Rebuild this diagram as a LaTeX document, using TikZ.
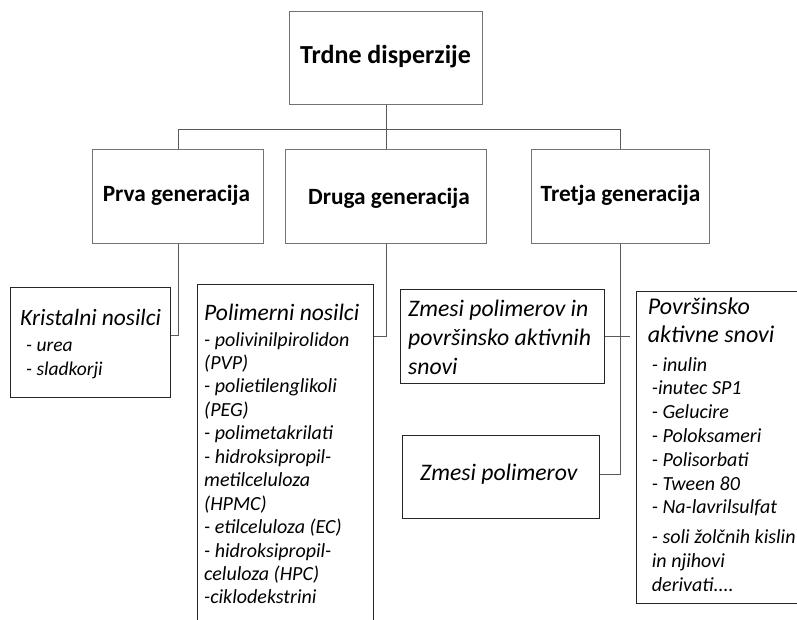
\documentclass[tikz,border=0pt]{standalone}
\usepackage{fontspec}
\setmainfont{Carlito}
\begin{document}
\begin{tikzpicture}[x=1pt,y=-1pt,
  topbox/.style={draw=black!55,line width=1.1pt,fill=white,inner sep=0pt,
     minimum width=#1},
  lowbox/.style={draw=black!85,line width=1.1pt,fill=white,inner sep=0pt},
  conn/.style={draw=black!65,line width=1pt},
  txt/.style={inner sep=0pt,anchor=base west,align=left},
  ctxt/.style={inner sep=0pt,anchor=base}]
\useasboundingbox (0,0) rectangle (797,619);
\fill[white] (0,0) rectangle (797,619);
\clip (0,0) rectangle (797,619);

% ---------- boxes ----------
\node[topbox=193pt,minimum height=93pt,anchor=north west] (top) at (289,11) {};
\node[topbox=171pt,minimum height=94pt,anchor=north west] (prva) at (92,149) {};
\node[topbox=201pt,minimum height=94pt,anchor=north west] (druga) at (285,149) {};
\node[topbox=178pt,minimum height=94pt,anchor=north west] (tretja) at (531,149) {};

\node[lowbox,minimum width=160pt,minimum height=110pt,anchor=north west] (kris) at (10,287) {};
\node[lowbox,minimum width=176pt,minimum height=366pt,anchor=north west] (poli) at (197,284) {};
\node[lowbox,minimum width=204pt,minimum height=94pt,anchor=north west] (zmin) at (400,289) {};
\node[lowbox,minimum width=197pt,minimum height=83pt,anchor=north west] (zmes) at (402,435) {};
\node[lowbox,minimum width=190pt,minimum height=312pt,anchor=north west] (povr) at (636,291) {};

% ---------- texts ----------
\node[ctxt,font=\fontsize{26}{30}\selectfont\bfseries] (ttop) at (385.5,63) {Trdne disperzije};
\node[ctxt,font=\fontsize{23.3}{27}\selectfont\bfseries] (tprva) at (176.5,201.5) {Prva generacija};
\node[ctxt,font=\fontsize{23.3}{27}\selectfont\bfseries] (tdruga) at (389,204) {Druga generacija};
\node[ctxt,font=\fontsize{23.3}{27}\selectfont\bfseries] (ttretja) at (620.5,201.5) {Tretja generacija};

\node[txt,font=\fontsize{23.4}{25}\selectfont\itshape] (tkris) at (20,325) {Kristalni nosilci};
\node[txt,font=\fontsize{19.5}{23.3}\selectfont\itshape] (tkrisl) at (26,351.7)
  {\parbox[t]{140pt}{- urea\\- sladkorji}};

\node[txt,font=\fontsize{23.6}{28}\selectfont\itshape] (tpoli) at (204,320.7) {Polimerni nosilci};
\node[txt,font=\fontsize{20}{23.45}\selectfont\itshape] (tpolil) at (204,346)
  {\parbox[t]{165pt}{- polivinilpirolidon\\(PVP)\\- polietilenglikoli\\(PEG)\\- polimetakrilati\\- hidroksipropil-\\metilceluloza\\(HPMC)\\- etilceluloza (EC)\\- hidroksipropil-\\celuloza (HPC)\\-ciklodekstrini}};

\node[txt,font=\fontsize{23.7}{28.7}\selectfont\itshape] (tzmin) at (408,316.7)
  {\parbox[t]{195pt}{Zmesi polimerov in\\površinsko aktivnih\\snovi}};
\node[txt,font=\fontsize{23.7}{28}\selectfont\itshape] (tzmes) at (420,480.7) {Zmesi polimerov};

\node[txt,font=\fontsize{24}{28}\selectfont\itshape] (tpovr) at (647.7,314.3)
  {\parbox[t]{150pt}{Površinsko\\aktivne snovi}};
\node[txt,font=\fontsize{20}{23.8}\selectfont\itshape] (tpovrl) at (651.7,371)
  {\parbox[t]{170pt}{- inulin\\-inutec SP1\\- Gelucire\\- Poloksameri\\- Polisorbati\\- Tween 80\\- Na-lavrilsulfat\\[6pt]- soli žolčnih kislin\\in njihovi\\derivati....}};

% ---------- connectors ----------
\coordinate (bus) at (0,129);
\coordinate (kl) at (0,335);
\coordinate (pl) at (0,336);
\coordinate (zl) at (0,474);

\draw[conn] (top.south) -- (top.south |- druga.north);
\draw[conn] (prva.north) -- (prva.north |- bus) -| (tretja.north);
\draw[conn] (prva.south) |- (kris.east |- kl);
\draw[conn] (druga.south) |- (poli.east |- pl);
\draw[conn] (tretja.south) |- (zmes.east |- zl);
\draw[conn] (zmin.east) -- ([xshift=-6pt]zmin.east -| povr.west);
\end{tikzpicture}
\end{document}
